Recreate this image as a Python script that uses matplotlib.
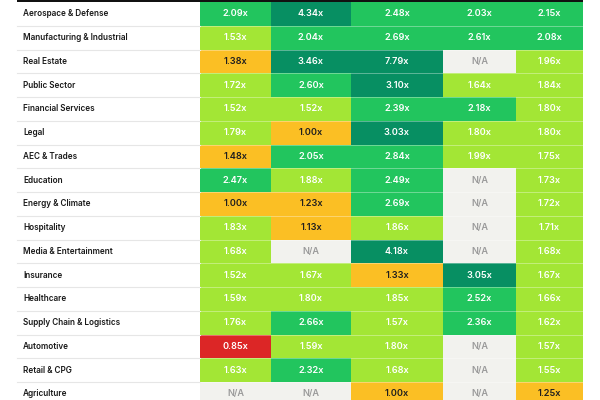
import matplotlib.pyplot as plt
from matplotlib.patches import Rectangle

# sector rows
sectors = ["Aerospace & Defense", "Manufacturing & Industrial", "Real Estate",
           "Public Sector", "Financial Services", "Legal", "AEC & Trades",
           "Education", "Energy & Climate", "Hospitality", "Media & Entertainment",
           "Insurance", "Healthcare", "Supply Chain & Logistics", "Automotive",
           "Retail & CPG", "Agriculture"]

# multiples per column (None = N/A)
col_1 = [2.09, 1.53, 1.38, 1.72, 1.52, 1.79, 1.48, 2.47, 1.00, 1.83, 1.68,
         1.52, 1.59, 1.76, 0.85, 1.63, None]
col_2 = [4.34, 2.04, 3.46, 2.60, 1.52, 1.00, 2.05, 1.88, 1.23, 1.13, None,
         1.67, 1.80, 2.66, 1.59, 2.32, None]
col_3 = [2.48, 2.69, 7.79, 3.10, 2.39, 3.03, 2.84, 2.49, 2.69, 1.86, 4.18,
         1.33, 1.85, 1.57, 1.80, 1.68, 1.00]
col_4 = [2.03, 2.61, None, 1.64, 2.18, 1.80, 1.99, None, None, None, None,
         3.05, 2.52, 2.36, None, None, None]
col_5 = [2.15, 2.08, 1.96, 1.84, 1.80, 1.80, 1.75, 1.73, 1.72, 1.71, 1.68,
         1.67, 1.66, 1.62, 1.57, 1.55, 1.25]
columns = [col_1, col_2, col_3, col_4, col_5]

# layout (pixels)
edges = [200, 271, 351, 443, 516, 583]
left = 17
row_h = 23.75
top = 2

def cell_color(v):
    if v is None:
        return "#F2F2EE"
    if v < 1:
        return "#DC2626"
    if v < 1.5:
        return "#FBBF24"
    if v < 2:
        return "#A3E635"
    if v < 3:
        return "#22C55E"
    return "#078F62"

def text_color(v):
    if v is None:
        return "#9A9A9A"
    if 1 <= v < 1.5:
        return "#1F1F1F"
    return "white"

plt.rcParams['font.family'] = ['Inter', 'DejaVu Sans']
fig = plt.figure(figsize=(6, 4), dpi=100)
ax = fig.add_axes([0, 0, 1, 1])
ax.set_xlim(0, 600)
ax.set_ylim(400, 0)
ax.axis("off")

for i, name in enumerate(sectors):
    y0 = top + i * row_h
    ax.text(23, y0 + row_h / 2, name, ha="left", va="center", fontsize=5.9,
            color="#1A1A1A", fontweight="semibold")
    ax.plot([left, edges[0]], [y0 + row_h, y0 + row_h], color="#E6E6E6", lw=0.8)
    for j, col in enumerate(columns):
        v = col[i]
        x0, x1 = edges[j], edges[j + 1]
        ax.add_patch(Rectangle((x0, y0), x1 - x0, row_h, facecolor=cell_color(v),
                               edgecolor="none"))
        label = "N/A" if v is None else f"{v:.2f}x"
        ax.text((x0 + x1) / 2, y0 + row_h / 2, label, ha="center", va="center",
                fontsize=6.6, color=text_color(v), fontweight="semibold")
    ax.plot([edges[0], edges[-1]], [y0 + row_h, y0 + row_h], color="white",
            lw=0.7, alpha=0.35)

ax.add_patch(Rectangle((left, 0), edges[-1] - left, 2, facecolor="#111111",
                       edgecolor="none"))

fig.savefig("out.png", dpi=100)
